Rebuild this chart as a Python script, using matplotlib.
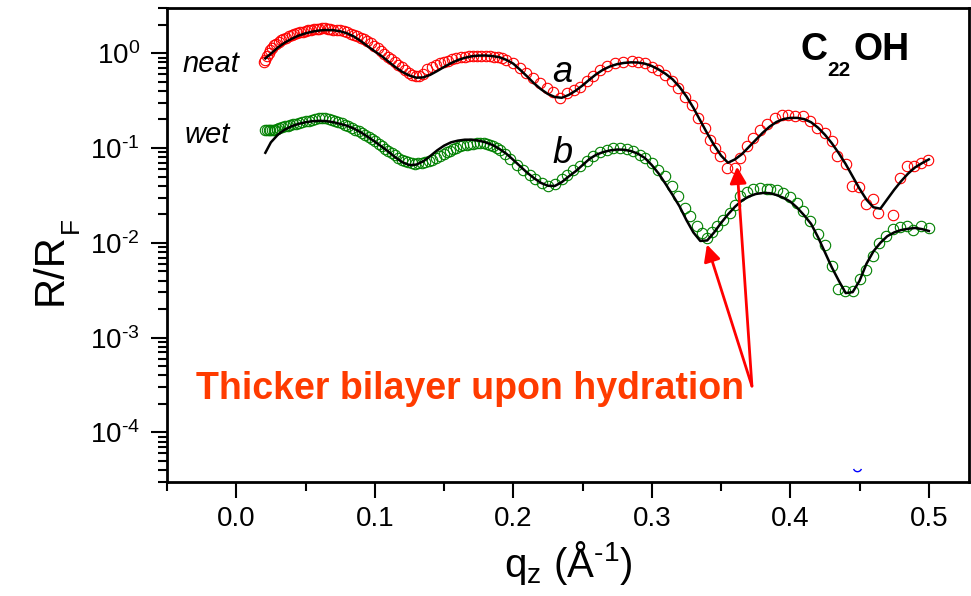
import matplotlib
matplotlib.use("Agg")
import matplotlib.pyplot as plt
import numpy as np
from matplotlib.ticker import MultipleLocator, LogLocator, NullFormatter, FuncFormatter
from matplotlib.path import Path

plt.rcParams['font.family'] = 'Liberation Sans'
plt.rcParams['mathtext.fontset'] = 'custom'
plt.rcParams['mathtext.rm'] = 'Liberation Sans'
plt.rcParams['mathtext.it'] = 'Liberation Sans:italic'
plt.rcParams['mathtext.bf'] = 'Liberation Sans:bold'
plt.rcParams['mathtext.default'] = 'regular'

# measured points: (q_z in 1/A, log10 of R/R_F)
neat_data = [
    (0.0200, -0.095), (0.0210, -0.070), (0.0221, -0.025), (0.0233, 0.005), (0.0245, 0.030),
    (0.0260, 0.058), (0.0275, 0.082), (0.0290, 0.100), (0.0305, 0.118), (0.0320, 0.135),
    (0.0340, 0.150), (0.0360, 0.165), (0.0380, 0.180), (0.0400, 0.192), (0.0420, 0.203),
    (0.0440, 0.212), (0.0460, 0.220), (0.0480, 0.228), (0.0500, 0.236), (0.0520, 0.242),
    (0.0540, 0.247), (0.0560, 0.252), (0.0580, 0.256), (0.0600, 0.258), (0.0620, 0.262),
    (0.0640, 0.261), (0.0660, 0.258), (0.0680, 0.256), (0.0700, 0.250), (0.0725, 0.245),
    (0.0750, 0.240), (0.0775, 0.233), (0.0800, 0.222), (0.0825, 0.208), (0.0850, 0.196),
    (0.0875, 0.182), (0.0900, 0.165), (0.0920, 0.150), (0.0945, 0.128), (0.0970, 0.103),
    (0.0995, 0.078), (0.1020, 0.050), (0.1045, 0.020), (0.1070, -0.008), (0.1095, -0.038),
    (0.1120, -0.065), (0.1145, -0.092), (0.1170, -0.120), (0.1195, -0.148), (0.1220, -0.178),
    (0.1245, -0.205), (0.1270, -0.228), (0.1295, -0.243), (0.1320, -0.240), (0.1350, -0.215),
    (0.1380, -0.170), (0.1410, -0.147), (0.1440, -0.125), (0.1470, -0.105), (0.1500, -0.090),
    (0.1530, -0.077), (0.1560, -0.063), (0.1590, -0.053), (0.1620, -0.043), (0.1650, -0.035),
    (0.1680, -0.031), (0.1710, -0.028), (0.1740, -0.026), (0.1770, -0.025), (0.1800, -0.026),
    (0.1830, -0.028), (0.1860, -0.035), (0.1890, -0.042), (0.1920, -0.055), (0.1950, -0.070),
    (0.2000, -0.105), (0.2050, -0.158), (0.2095, -0.210), (0.2145, -0.263), (0.2190, -0.316),
    (0.2240, -0.368), (0.2290, -0.404), (0.2340, -0.474), (0.2385, -0.421), (0.2435, -0.386),
    (0.2480, -0.351), (0.2530, -0.298), (0.2578, -0.237), (0.2626, -0.175), (0.2675, -0.134),
    (0.2735, -0.105), (0.2795, -0.088), (0.2855, -0.081), (0.2903, -0.088), (0.2951, -0.105),
    (0.2999, -0.140), (0.3047, -0.175), (0.3095, -0.228), (0.3143, -0.298), (0.3191, -0.368),
    (0.3240, -0.457), (0.3288, -0.544), (0.3336, -0.684), (0.3384, -0.790), (0.3420, -0.912),
    (0.3456, -1.000), (0.3492, -1.088), (0.3540, -1.210), (0.3600, -1.210), (0.3636, -1.105),
    (0.3685, -0.982), (0.3733, -0.895), (0.3780, -0.807), (0.3829, -0.745), (0.3889, -0.684),
    (0.3937, -0.649), (0.3985, -0.649), (0.4033, -0.667), (0.4093, -0.667), (0.4141, -0.720),
    (0.4190, -0.790), (0.4250, -0.842), (0.4298, -0.930), (0.4339, -1.088), (0.4400, -1.165),
    (0.4442, -1.404), (0.4497, -1.414), (0.4545, -1.586), (0.4594, -1.537), (0.4634, -1.684),
    (0.4743, -1.709), (0.4790, -1.316), (0.4839, -1.193), (0.4892, -1.186), (0.4947, -1.158),
    (0.4995, -1.123),
]

wet_data = [
    (0.0210, -0.810), (0.0222, -0.805), (0.0233, -0.807), (0.0245, -0.812), (0.0257, -0.806),
    (0.0270, -0.808), (0.0281, -0.805), (0.0295, -0.795), (0.0310, -0.790), (0.0330, -0.783),
    (0.0350, -0.772), (0.0370, -0.765), (0.0390, -0.757), (0.0410, -0.750), (0.0430, -0.742),
    (0.0450, -0.735), (0.0475, -0.727), (0.0500, -0.720), (0.0522, -0.713), (0.0545, -0.702),
    (0.0570, -0.692), (0.0595, -0.686), (0.0618, -0.684), (0.0640, -0.688), (0.0666, -0.692),
    (0.0690, -0.702), (0.0714, -0.713), (0.0738, -0.725), (0.0762, -0.737), (0.0786, -0.755),
    (0.0810, -0.772), (0.0835, -0.790), (0.0859, -0.807), (0.0883, -0.825), (0.0907, -0.842),
    (0.0930, -0.865), (0.0955, -0.888), (0.0980, -0.910), (0.1003, -0.930), (0.1027, -0.958),
    (0.1051, -0.983), (0.1075, -1.005), (0.1099, -1.028), (0.1123, -1.052), (0.1147, -1.077),
    (0.1171, -1.100), (0.1195, -1.123), (0.1220, -1.137), (0.1243, -1.147), (0.1267, -1.160),
    (0.1291, -1.165), (0.1315, -1.160), (0.1340, -1.160), (0.1365, -1.150), (0.1388, -1.140),
    (0.1412, -1.125), (0.1440, -1.105), (0.1472, -1.088), (0.1500, -1.065), (0.1520, -1.046),
    (0.1545, -1.028), (0.1568, -1.011), (0.1590, -0.995), (0.1616, -0.983), (0.1640, -0.972),
    (0.1665, -0.965), (0.1690, -0.958), (0.1712, -0.955), (0.1735, -0.950), (0.1760, -0.947),
    (0.1785, -0.950), (0.1809, -0.955), (0.1833, -0.968), (0.1857, -0.983), (0.1880, -1.000),
    (0.1905, -1.018), (0.1941, -1.060), (0.1977, -1.116), (0.2025, -1.176), (0.2073, -1.228),
    (0.2121, -1.281), (0.2157, -1.326), (0.2205, -1.368), (0.2253, -1.397), (0.2302, -1.379),
    (0.2350, -1.326), (0.2386, -1.284), (0.2434, -1.235), (0.2482, -1.186), (0.2530, -1.133),
    (0.2578, -1.088), (0.2626, -1.046), (0.2675, -1.018), (0.2723, -1.004), (0.2771, -1.000),
    (0.2819, -1.011), (0.2867, -1.035), (0.2915, -1.070), (0.2951, -1.105), (0.2999, -1.158),
    (0.3047, -1.228), (0.3095, -1.298), (0.3143, -1.404), (0.3191, -1.509), (0.3240, -1.632),
    (0.3276, -1.719), (0.3324, -1.825), (0.3360, -1.895), (0.3396, -1.947), (0.3432, -1.888),
    (0.3468, -1.825), (0.3516, -1.754), (0.3564, -1.684), (0.3600, -1.596), (0.3636, -1.509),
    (0.3685, -1.467), (0.3733, -1.432), (0.3780, -1.421), (0.3829, -1.428), (0.3853, -1.432),
    (0.3901, -1.446), (0.3949, -1.474), (0.3997, -1.516), (0.4045, -1.579), (0.4093, -1.667),
    (0.4141, -1.772), (0.4201, -1.912), (0.4250, -2.028), (0.4298, -2.246), (0.4346, -2.484),
    (0.4394, -2.509), (0.4455, -2.509), (0.4502, -2.386), (0.4545, -2.288), (0.4594, -2.140),
    (0.4642, -2.007), (0.4690, -1.923), (0.4738, -1.853), (0.4790, -1.832), (0.4839, -1.825),
    (0.4887, -1.860), (0.4947, -1.825), (0.5002, -1.842),
]

# model fits, log10 of R/R_F on a common q grid
fit_q = [
    0.021, 0.025, 0.030, 0.035, 0.040, 0.045, 0.050, 0.055, 0.060, 0.065,
    0.070, 0.075, 0.080, 0.085, 0.090, 0.095, 0.100, 0.105, 0.110, 0.115,
    0.120, 0.125, 0.130, 0.135, 0.140, 0.145, 0.150, 0.155, 0.160, 0.165,
    0.170, 0.175, 0.180, 0.185, 0.190, 0.195, 0.200, 0.205, 0.210, 0.215,
    0.220, 0.225, 0.230, 0.235, 0.240, 0.245, 0.250, 0.255, 0.260, 0.265,
    0.270, 0.275, 0.280, 0.285, 0.290, 0.295, 0.300, 0.305, 0.310, 0.315,
    0.320, 0.325, 0.330, 0.335, 0.340, 0.345, 0.350, 0.355, 0.360, 0.365,
    0.370, 0.375, 0.380, 0.385, 0.390, 0.395, 0.400, 0.405, 0.410, 0.415,
    0.420, 0.425, 0.430, 0.435, 0.440, 0.445, 0.450, 0.455, 0.460, 0.465,
    0.470, 0.475, 0.480, 0.485, 0.490, 0.495, 0.500,
]
neat_fit = [
    -0.055, -0.005, 0.060, 0.112, 0.152, 0.186, 0.210, 0.228, 0.240, 0.245,
    0.243, 0.232, 0.210, 0.176, 0.128, 0.072, 0.020, -0.030, -0.090, -0.148,
    -0.198, -0.235, -0.258, -0.255, -0.228, -0.188, -0.145, -0.105, -0.072, -0.048,
    -0.032, -0.025, -0.024, -0.030, -0.042, -0.070, -0.110, -0.175, -0.245, -0.318,
    -0.380, -0.430, -0.462, -0.470, -0.440, -0.395, -0.340, -0.278, -0.220, -0.172,
    -0.138, -0.115, -0.102, -0.096, -0.098, -0.110, -0.135, -0.172, -0.218, -0.275,
    -0.355, -0.455, -0.575, -0.710, -0.845, -0.970, -1.080, -1.155, -1.120, -1.065,
    -0.990, -0.915, -0.840, -0.775, -0.725, -0.695, -0.682, -0.682, -0.695, -0.728,
    -0.785, -0.860, -0.950, -1.055, -1.170, -1.300, -1.430, -1.545, -1.625, -1.640,
    -1.540, -1.440, -1.350, -1.270, -1.205, -1.160, -1.120,
]
wet_fit = [
    -1.050, -0.940, -0.860, -0.805, -0.770, -0.745, -0.728, -0.717, -0.713, -0.716,
    -0.727, -0.745, -0.765, -0.795, -0.835, -0.882, -0.932, -0.985, -1.040, -1.100,
    -1.150, -1.180, -1.175, -1.140, -1.085, -1.025, -0.975, -0.940, -0.922, -0.912,
    -0.912, -0.922, -0.940, -0.968, -1.010, -1.060, -1.125, -1.193, -1.260, -1.318,
    -1.368, -1.398, -1.400, -1.360, -1.300, -1.245, -1.180, -1.115, -1.070, -1.042,
    -1.025, -1.016, -1.018, -1.032, -1.060, -1.105, -1.180, -1.270, -1.380, -1.495,
    -1.615, -1.760, -1.890, -1.980, -1.975, -1.890, -1.790, -1.700, -1.620, -1.555,
    -1.512, -1.485, -1.474, -1.476, -1.495, -1.525, -1.565, -1.630, -1.710, -1.800,
    -1.940, -2.100, -2.260, -2.400, -2.530, -2.520, -2.400, -2.220, -2.090, -2.000,
    -1.930, -1.890, -1.865, -1.852, -1.843, -1.855, -1.875,
]

# arrow targets (the two minima) and common tail, (q, R/R_F)
arrow_heads = [(0.3398, 0.0096), (0.3615, 0.0636)]
arrow_tail = (0.3723, 3.08e-4)

# stray blue mark near the bottom of the frame
stray_q = [0.448]
stray_r = [4.3e-5]

W, H = 971, 596
fig = plt.figure(figsize=(W / 100, H / 100), dpi=100)
ax = fig.add_axes([167 / W, 1 - 482 / H, (969 - 167) / W, (482 - 8) / H])


def px(x, y):
    return x / W, 1 - y / H


def log_label(v, pos):
    e = int(round(np.log10(v)))
    return r'$\mathregular{10^{%s}}$' % str(e).replace('-', '\u2010')


neat_q = [p[0] for p in neat_data]
neat_r = 10 ** np.array([p[1] for p in neat_data])
wet_q = [p[0] for p in wet_data]
wet_r = 10 ** np.array([p[1] for p in wet_data])

ax.plot(neat_q, neat_r, 'o', mfc='none', mec='#ff0000', ms=7.5, mew=0.8, ls='none')
ax.plot(wet_q, wet_r, 'o', mfc='none', mec='#008000', ms=7.5, mew=0.8, ls='none')
ax.plot(fit_q, 10 ** np.array(neat_fit), '-', color='black', lw=1.8)
ax.plot(fit_q, 10 ** np.array(wet_fit), '-', color='black', lw=1.8)

arc = Path.arc(200, 340)
ax.plot(stray_q, stray_r, ls='none', marker=arc, ms=6, mfc='none', mec='blue', mew=1)

ax.set_yscale('log')
ax.set_xlim(-0.05, 0.529)
ax.set_ylim(3e-5, 3)

ax.set_xticks([0.0, 0.1, 0.2, 0.3, 0.4, 0.5])
ax.set_xticklabels(['0.0', '0.1', '0.2', '0.3', '0.4', '0.5'])
ax.xaxis.set_minor_locator(MultipleLocator(0.05))
ax.yaxis.set_major_locator(LogLocator(base=10))
ax.yaxis.set_major_formatter(FuncFormatter(log_label))
ax.yaxis.set_minor_locator(LogLocator(base=10, subs=np.arange(2, 10)))
ax.yaxis.set_minor_formatter(NullFormatter())

ax.tick_params(which='major', direction='out', length=11.5, width=1.5, labelsize=20, pad=6)
ax.tick_params(axis='y', which='major', pad=8)
ax.tick_params(which='minor', direction='out', length=6.5, width=1.5)
for s in ax.spines.values():
    s.set_linewidth(2)

ax.set_xlabel('q$_z$ (Å$^{\u20101}$)', fontsize=29, labelpad=5)

# y label drawn as two pieces: Origin drops the subscript fully below the baseline
fig.text(*px(62, 305), 'R/R', fontsize=30, rotation=90, rotation_mode='anchor',
         ha='left', va='baseline')
fig.text(*px(78, 233), 'F', fontsize=19, rotation=90, rotation_mode='anchor',
         ha='left', va='baseline')

# arrows
for head in arrow_heads:
    ax.annotate('', xy=head, xytext=arrow_tail,
                arrowprops=dict(arrowstyle='-|>,head_length=0.5,head_width=0.25',
                                color='#ff0000', lw=2, shrinkA=0, shrinkB=0,
                                mutation_scale=20))

fig.text(*px(196, 399), 'Thicker bilayer upon hydration', fontsize=27,
         fontweight='bold', color='#ff3b00', va='baseline')

fig.text(*px(183, 72), 'neat', fontsize=21, style='italic', va='baseline')
fig.text(*px(185, 143), 'wet', fontsize=21, style='italic', va='baseline')
fig.text(*px(552, 82), 'a', fontsize=26, style='italic', va='baseline')
fig.text(*px(552, 163), 'b', fontsize=26, style='italic', va='baseline')

fig.text(*px(800, 60), 'C', fontsize=27, fontweight='bold', va='baseline')
fig.text(*px(827, 76), '22', fontsize=15, fontweight='bold', va='baseline')
fig.text(*px(853, 60), 'OH', fontsize=27, fontweight='bold', va='baseline')

fig.savefig('out.png', dpi=100)
